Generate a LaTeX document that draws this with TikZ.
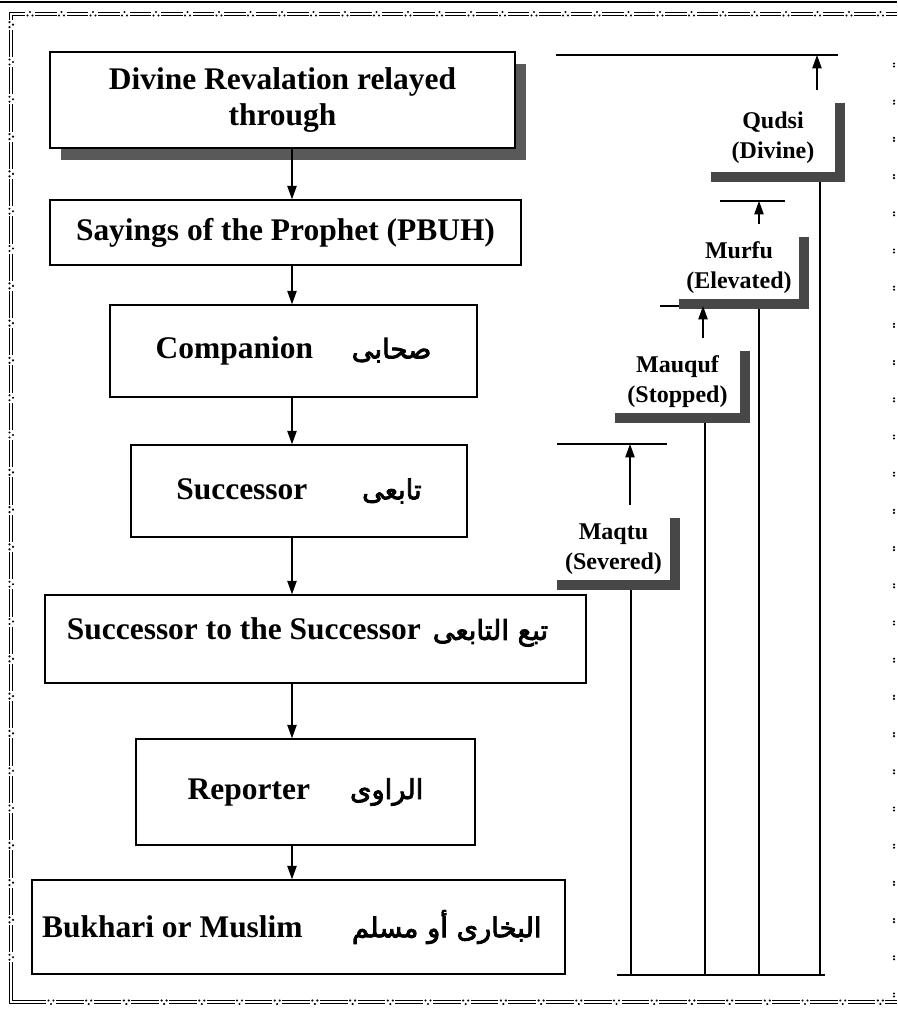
\documentclass[tikz,border=0pt]{standalone}
\usepackage{fontspec}
\setmainfont{Liberation Serif}
\newfontfamily\arabicfont[Script=Arabic, Scale=0.87, FakeBold=3]{DejaVu Sans}
\TeXXeTstate=1
\usetikzlibrary{arrows.meta,positioning,calc,shadows}
\newcommand\arb[1]{{\arabicfont\mdseries\beginR #1\endR}}

\begin{document}
\begin{tikzpicture}[x=0.75pt, y=-0.75pt,
    box/.style={draw, line width=1.1pt, fill=white, inner sep=0pt, align=center, font=\bfseries\fontsize{23.6}{27}\selectfont},
    boxsize/.style 2 args={minimum width=#1*0.75pt, minimum height=#2*0.75pt},
    grade/.style={inner sep=0pt, align=center, font=\bfseries\fontsize{18}{22.5}\selectfont},
    raised/.style={drop shadow={shadow xshift=8pt, shadow yshift=-9pt, fill=black!65, opacity=1}},
    lbar/.style={draw=black!72, line width=7.5pt},
    arr/.style={-{Triangle[length=10pt,width=7pt]}, line width=0.9pt},
    wire/.style={line width=1.1pt},
    rim/.style={line width=0.6pt}
]
    \useasboundingbox (0,0) rectangle (897,1013);

    % frame
    \draw[line width=1.5pt] (0,2) -- (897,2);
    \draw[rim] (897,12.5) -- (9.5,12.5) -- (9.5,1003.5) -- (897,1003.5);
    \draw[rim] (897,15.5) -- (12.5,15.5) -- (12.5,1000.5) -- (897,1000.5);
    \foreach \x in {30,61.5,...,885} {
        \fill[white] (\x-5,10) rectangle (\x+5,18);
        \fill (\x-2.5,15.5) circle (0.9pt) (\x+2.5,15.5) circle (0.9pt) (\x,12) circle (0.9pt);
    }
    \foreach \y in {24.7,62,...,990} {
        \fill[white] (7,\y-5) rectangle (15,\y+5);
        \fill (9.5,\y-2.5) circle (0.9pt) (9.5,\y+2.5) circle (0.9pt) (13,\y) circle (0.9pt);
    }
    \foreach \x in {51,88.7,...,890} {
        \fill[white] (\x-5,998) rectangle (\x+5,1006);
        \fill (\x-2.5,1000.5) circle (0.9pt) (\x+2.5,1000.5) circle (0.9pt) (\x,1004) circle (0.9pt);
    }
    \foreach \y in {65,102.2,...,995}
        \fill (894,\y-1.5) circle (0.9pt) (894,\y+1.5) circle (0.9pt);

    % chain of narrators
    \node[box, raised, boxsize={465}{96}] (reveal) at (282.5,100) {Divine Revalation relayed\\through};
    \node[box, boxsize={471}{65}] (sayings) at (285.5,232.5) {Sayings of the Prophet (PBUH)};
    \node[box, boxsize={367}{92}] (companion) at (293.5,351) {Companion\hspace{29pt}\arb{صحابى}};
    \node[box, boxsize={336}{92}] (successor) at (299,491) {Successor\hspace{41pt}\arb{تابعى}};
    \node[box, boxsize={541}{88}] (succsucc) at (315.5,639) {\raisebox{5pt}[\height][\depth]{Successor to the Successor\hspace{9pt}\arb{تبع التابعى}}\hspace{12pt}};
    \node[box, boxsize={339}{106}] (reporter) at (305.5,792) {Reporter\hspace{30pt}\arb{الراوى}};
    \node[box, boxsize={533}{94}] (collector) at (298.5,927) {Bukhari or Muslim\hspace{37pt}\arb{البخارى أو مسلم}\hspace{10pt}};

    \coordinate (spine) at (292,0);
    \draw[arr] (reveal.south -| spine) -- (sayings.north -| spine);
    \draw[arr] (sayings.south -| spine) -- (companion.north -| spine);
    \draw[arr] (companion.south -| spine) -- (successor.north -| spine);
    \draw[arr] (successor.south -| spine) -- (succsucc.north -| spine);
    \draw[arr] (succsucc.south -| spine) -- (reporter.north -| spine);
    \draw[arr] (reporter.south -| spine) -- (collector.north -| spine);

    % grades of hadith
    \node[grade, boxsize={124}{69}] (qudsi) at (773,137.5) {Qudsi\\(Divine)};
    \node[grade, boxsize={120}{62}] (murfu) at (739,268) {Murfu\\(Elevated)};
    \node[grade, boxsize={125}{62}] (mauquf) at (677.5,382) {Mauquf\\(Stopped)};
    \node[grade, boxsize={113}{62}] (maqtu) at (613.5,549) {Maqtu\\(Severed)};

    \coordinate (qudsi-tip) at (817,55);
    \coordinate (murfu-tip) at (759,201);
    \coordinate (mauquf-tip) at (703,306);
    \coordinate (maqtu-tip) at (630,444);
    \coordinate (qudsi-foot) at (820,975);
    \coordinate (murfu-foot) at (759,975);
    \coordinate (mauquf-foot) at (705,975);
    \coordinate (maqtu-foot) at (631,975);

    \draw[line width=1.3pt] (556,55) -- (838,55);
    \draw[line width=1.3pt] (720,201) -- (785,201);
    \draw[line width=1.3pt] (660,306) -- (720,306);
    \draw[line width=1.3pt] (557,444) -- (667,444);
    \draw[line width=1.5pt] (617,975) -- (825,975);

    \foreach \n in {qudsi,murfu,mauquf,maqtu} {
        \draw[wire] (\n-foot |- \n.south) -- (\n-foot);
        \draw[arr] ($(\n-tip |- \n.north)+(0,-13)$) -- (\n-tip);
        \draw[lbar] ($(\n.north east)+(5,0)$) |- ($(\n.south west)+(0,5)$);
    }
\end{tikzpicture}
\end{document}
